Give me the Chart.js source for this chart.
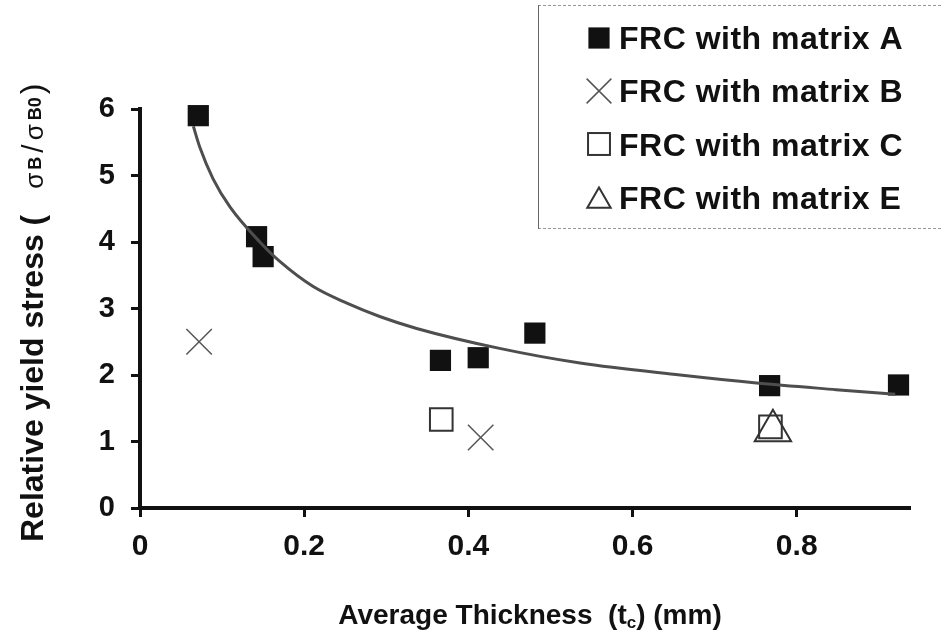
<!DOCTYPE html>
<html>
<head>
<meta charset="utf-8">
<script src="https://cdn.jsdelivr.net/npm/chart.js@4.4.0/dist/chart.umd.min.js"></script>
<style>
  body { margin: 0; background: #fff; }
  canvas { display: block; }
</style>
</head>
<body>
<canvas id="yieldChart" width="941" height="637"></canvas>
<script>
// values
const xTicks = [0, 0.2, 0.4, 0.6, 0.8];
const yTicks = [0, 1, 2, 3, 4, 5, 6];

const matrixA_x = [0.071, 0.142, 0.150, 0.366, 0.412, 0.481, 0.767, 0.924];
const matrixA_y = [5.90, 4.08, 3.78, 2.22, 2.26, 2.63, 1.84, 1.85];
const matrixB_x = [0.072, 0.415];
const matrixB_y = [2.50, 1.06];
const matrixC_x = [0.367, 0.768];
const matrixC_y = [1.33, 1.22];
const matrixE_x = [0.771];
const matrixE_y = [1.16];

// trend curve
const fitX = [0.065, 0.073, 0.089, 0.110, 0.146, 0.171, 0.211, 0.252, 0.292, 0.337, 0.438, 0.536, 0.658, 0.751, 0.848, 0.920];
const fitY = [5.74, 5.42, 4.95, 4.52, 4.00, 3.70, 3.33, 3.08, 2.88, 2.70, 2.40, 2.18, 2.00, 1.88, 1.78, 1.71];

const FONT = '"Liberation Sans", Arial, Helvetica, sans-serif';
const INK = '#111';

function pts(xs, ys) {
    return xs.map((x, i) => ({ x: x, y: ys[i] }));
}

/* LEGEND + AXIS TITLES (drawn by hand, they sit outside chart.js' usual slots) */
function drawMarker(ctx, style, x, y, r) {
    ctx.save();
    ctx.beginPath();
    if (style === 'filled') {
        const s = r * Math.SQRT1_2;
        ctx.fillStyle = INK;
        ctx.fillRect(x - s, y - s, 2 * s, 2 * s);
    } else if (style === 'cross') {
        const s = r * Math.SQRT1_2;
        ctx.strokeStyle = '#555';
        ctx.lineWidth = 1.5;
        ctx.moveTo(x - s, y - s); ctx.lineTo(x + s, y + s);
        ctx.moveTo(x + s, y - s); ctx.lineTo(x - s, y + s);
        ctx.stroke();
    } else if (style === 'open') {
        const s = r * Math.SQRT1_2;
        ctx.strokeStyle = '#333';
        ctx.lineWidth = 2;
        ctx.strokeRect(x - s, y - s, 2 * s, 2 * s);
    } else {
        ctx.strokeStyle = '#333';
        ctx.lineWidth = 2;
        ctx.moveTo(x, y - r);
        ctx.lineTo(x + r * 0.866, y + r * 0.5);
        ctx.lineTo(x - r * 0.866, y + r * 0.5);
        ctx.closePath();
        ctx.stroke();
    }
    ctx.restore();
}

function drawPieces(ctx, pieces) {
    let x = 0;
    pieces.forEach(p => {
        ctx.font = p.f;
        if (p.t) ctx.fillText(p.t, x, p.dy || 0);
        x += (p.t ? ctx.measureText(p.t).width : 0) + (p.gap || 0);
    });
    return x;
}

function piecesWidth(ctx, pieces) {
    let w = 0;
    pieces.forEach(p => {
        ctx.font = p.f;
        w += (p.t ? ctx.measureText(p.t).width : 0) + (p.gap || 0);
    });
    return w;
}

const decorations = {
    id: 'decorations',
    afterDraw(chart) {
        const ctx = chart.ctx;
        ctx.save();
        ctx.fillStyle = INK;
        ctx.textBaseline = 'alphabetic';

        // legend frame
        ctx.strokeStyle = '#999';
        ctx.lineWidth = 1;
        ctx.setLineDash([3, 2]);
        ctx.beginPath();
        ctx.moveTo(538, 5.5); ctx.lineTo(941, 5.5);
        ctx.moveTo(538, 228.5); ctx.lineTo(941, 228.5);
        ctx.stroke();
        ctx.setLineDash([]);
        ctx.strokeStyle = '#666';
        ctx.beginPath();
        ctx.moveTo(538.5, 5); ctx.lineTo(538.5, 229);
        ctx.stroke();

        const rows = [
            { ds: 1, style: 'filled', y: 38, base: 49, r: 15 },
            { ds: 2, style: 'cross', y: 91, base: 102, r: 17.5 },
            { ds: 3, style: 'open', y: 144, base: 156, r: 15.5 },
            { ds: 4, style: 'tri', y: 201, base: 209, r: 13.5 }
        ];
        if ('letterSpacing' in ctx) ctx.letterSpacing = '0.5px';
        rows.forEach(row => {
            drawMarker(ctx, row.style, 599, row.y, row.r);
            ctx.fillStyle = INK;
            ctx.font = 'bold 32px ' + FONT;
            ctx.fillText(chart.data.datasets[row.ds].label, 619, row.base);
        });
        if ('letterSpacing' in ctx) ctx.letterSpacing = '0px';

        // x title
        const xt = [
            { t: 'Average Thickness  (t', f: 'bold 28px ' + FONT },
            { t: 'c', f: 'bold 17px ' + FONT, dy: 4 },
            { t: ') (mm)', f: 'bold 28px ' + FONT }
        ];
        ctx.save();
        ctx.translate(530 - piecesWidth(ctx, xt) / 2, 624);
        drawPieces(ctx, xt);
        ctx.restore();

        // y title, rotated
        const yt = [
            { t: 'Relative yield stress (', f: 'bold 32px ' + FONT, gap: 26 },
            { t: '\u03c3', f: '26px ' + FONT, gap: 3 },
            { t: 'B', f: 'bold 18px ' + FONT, dy: -2, gap: 4 },
            { t: '/', f: '30px ' + FONT, gap: 4 },
            { t: '\u03c3', f: '26px ' + FONT, gap: 4 },
            { t: 'B0', f: 'bold 18px ' + FONT, dy: -2, gap: 3 },
            { t: ')', f: '32px ' + FONT }
        ];
        ctx.save();
        ctx.translate(43, 542);
        ctx.rotate(-Math.PI / 2);
        drawPieces(ctx, yt);
        ctx.restore();

        ctx.restore();
    }
};

new Chart(document.getElementById('yieldChart'), {
    type: 'scatter',
    data: {
        datasets: [
            { label: 'fit', data: pts(fitX, fitY), showLine: true, borderColor: '#4e4e4e', borderWidth: 3,
              pointRadius: 0, cubicInterpolationMode: 'monotone', fill: false, clip: false },
            { label: 'FRC with matrix A', data: pts(matrixA_x, matrixA_y), pointStyle: 'rect', pointRadius: 15,
              backgroundColor: INK, borderColor: INK, borderWidth: 0, clip: false },
            { label: 'FRC with matrix B', data: pts(matrixB_x, matrixB_y), pointStyle: 'crossRot', pointRadius: 18,
              borderColor: '#555', borderWidth: 1.5, clip: false },
            { label: 'FRC with matrix C', data: pts(matrixC_x, matrixC_y), pointStyle: 'rect', pointRadius: 16,
              backgroundColor: 'rgba(0,0,0,0)', borderColor: '#333', borderWidth: 2, clip: false },
            { label: 'FRC with matrix E', data: pts(matrixE_x, matrixE_y), pointStyle: 'triangle', pointRadius: 21,
              backgroundColor: 'rgba(0,0,0,0)', borderColor: '#333', borderWidth: 2, clip: false }
        ]
    },
    options: {
        responsive: false,
        animation: false,
        events: [],
        layout: { padding: { left: 0, top: 109, right: 31, bottom: 0 } },
        plugins: { legend: { display: false }, tooltip: { enabled: false } },
        scales: {
            x: {
                type: 'linear', min: 0, max: 0.938,
                afterFit: s => { s.height = 129; },
                afterBuildTicks: s => { s.ticks = xTicks.map(v => ({ value: v })); },
                grid: { drawOnChartArea: false, drawTicks: true, tickLength: 9, tickWidth: 3, tickColor: INK },
                border: { display: true, color: INK, width: 4 },
                ticks: { color: INK, padding: 12, font: { family: FONT, size: 30, weight: 'bold' },
                         maxRotation: 0, callback: v => String(v) }
            },
            y: {
                type: 'linear', min: 0, max: 6,
                afterFit: s => { s.width = 140; },
                afterBuildTicks: s => { s.ticks = yTicks.map(v => ({ value: v })); },
                grid: { drawOnChartArea: false, drawTicks: true, tickLength: 9, tickWidth: 3, tickColor: INK },
                border: { display: true, color: INK, width: 4 },
                ticks: { color: INK, padding: 16, font: { family: FONT, size: 29, weight: 'bold' },
                         callback: v => String(v) }
            }
        }
    },
    plugins: [decorations]
});
</script>
</body>
</html>
